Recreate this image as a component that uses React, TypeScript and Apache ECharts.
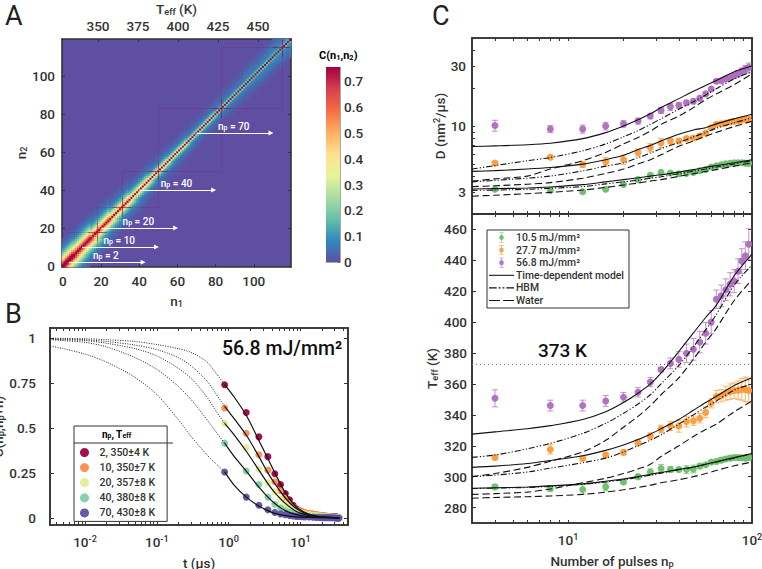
import React, { useEffect, useRef } from "react";
import * as echarts from "echarts";

const FONT = "Roboto";
const INK = "#333333";

// ---------- Panel A ----------
const nIndex = Array.from({ length: 120 }, (_, i) => String(i));
const spectral = ["#5e4fa2", "#3288bd", "#66c2a5", "#abdda4", "#e6f598", "#fee08b", "#fdae61", "#f46d43", "#d53e4f", "#9e0142"];
const diagonalValue = 0.755;
const bandStarts = [0, 6, 15, 25, 35, 45, 55, 65, 80, 95, 108];
const band0 = [0.74, 0.62, 0.5, 0.4, 0.31, 0.24, 0.185, 0.14, 0.1, 0.07, 0.05, 0.035, 0.02, 0.01];
const band6 = [0.68, 0.56, 0.45, 0.35, 0.27, 0.21, 0.16, 0.12, 0.09, 0.065, 0.045, 0.03, 0.02, 0.01];
const band15 = [0.58, 0.44, 0.33, 0.25, 0.185, 0.135, 0.1, 0.075, 0.055, 0.04, 0.03, 0.02, 0.01];
const band25 = [0.5, 0.35, 0.25, 0.18, 0.13, 0.09, 0.065, 0.05, 0.035, 0.025, 0.015, 0.01];
const band35 = [0.43, 0.28, 0.19, 0.13, 0.09, 0.06, 0.045, 0.03, 0.02, 0.01];
const band45 = [0.37, 0.22, 0.14, 0.095, 0.065, 0.045, 0.03, 0.02, 0.015, 0.01];
const band55 = [0.31, 0.17, 0.11, 0.07, 0.05, 0.035, 0.025, 0.015, 0.01];
const band65 = [0.25, 0.13, 0.08, 0.05, 0.035, 0.025, 0.015, 0.01];
const band80 = [0.2, 0.09, 0.065, 0.05, 0.04, 0.03, 0.02, 0.015, 0.01];
const band95 = [0.17, 0.09, 0.07, 0.06, 0.05, 0.04, 0.03, 0.02, 0.015, 0.01];
const band108 = [0.15, 0.1, 0.08, 0.07, 0.06, 0.05, 0.04, 0.03, 0.02];
const bandTable = [band0, band6, band15, band25, band35, band45, band55, band65, band80, band95, band108];
const crossPulses = [18, 31, 50, 83, 115];
const crossLow = [4, 18, 31, 50, 83];
const crossHigh = [32, 50, 83, 115, 119];
const arrowNp = [2, 10, 20, 40, 70];
const arrowStart = [3, 10, 20, 40, 70];
const arrowEnd = [42, 49, 59, 79, 109];
const topTeffTicks = [350, 375, 400, 425, 450];
const cbarTicks = [0, 0.1, 0.2, 0.3, 0.4, 0.5, 0.6, 0.7];
const heatTicks = [0, 20, 40, 60, 80, 100];

// ---------- Panel B ----------
const bNames = ["2, 350±4 K", "10, 350±7 K", "20, 357±8 K", "40, 380±8 K", "70, 430±8 K"];
const bColors = ["#9e0142", "#fb8d4f", "#dfee92", "#7fd0a5", "#5e4fa2"];
const bTimes = [0.88, 1.76, 2.64, 3.52, 4.4, 5.28, 6.16, 7.04, 7.92, 8.8, 9.68, 10.56, 11.44, 13.2, 14.96, 16.72, 18.48, 20.24, 22, 23.76, 25.52, 27.28, 29.04, 30.8, 32.56, 34.32];
const bNp2 = [0.74, 0.585, 0.45, 0.34, 0.245, 0.185, 0.135, 0.1, 0.07, 0.05, 0.04, 0.033, 0.028, 0.022, 0.018, 0.015, 0.013, 0.012, 0.01, 0.008, 0.007, 0.006, 0.005, 0.005, 0.004, 0.003];
const bNp10 = [0.61, 0.47, 0.35, 0.265, 0.2, 0.15, 0.11, 0.08, 0.06, 0.045, 0.04, 0.035, 0.03, 0.025, 0.022, 0.018, 0.015, 0.012, 0.01, 0.008, 0.006, 0.005, 0.004, 0.004, 0.003, 0.002];
const bNp20 = [0.525, 0.39, 0.27, 0.195, 0.145, 0.105, 0.08, 0.06, 0.045, 0.035, 0.03, 0.025, 0.022, 0.018, 0.014, 0.012, 0.01, 0.008, 0.006, 0.005, 0.004, 0.003, 0.003, 0.002, 0.002, 0.001];
const bNp40 = [0.415, 0.26, 0.185, 0.115, 0.075, 0.055, 0.04, 0.03, 0.025, 0.02, 0.016, 0.013, 0.011, 0.009, 0.007, 0.006, 0.005, 0.004, 0.004, 0.003, 0.003, 0.002, 0.002, 0.001, 0.001, 0.001];
const bNp70 = [0.255, 0.115, 0.07, 0.045, 0.03, 0.022, 0.017, 0.013, 0.01, 0.008, 0.007, 0.006, 0.005, 0.004, 0.003, 0.002, 0.002, 0.001, 0.001, 0.001, 0, 0, 0, -0.001, -0.002, -0.003];
const bPoints = [bNp2, bNp10, bNp20, bNp40, bNp70];
const dottedT = [0.0033, 0.005, 0.01, 0.02, 0.05, 0.1, 0.2, 0.31, 0.5, 0.69, 0.88];
const dotNp2 = [0.998, 0.997, 0.995, 0.99, 0.98, 0.963, 0.94, 0.917, 0.865, 0.796, 0.74];
const dotNp10 = [0.995, 0.993, 0.99, 0.98, 0.96, 0.935, 0.89, 0.84, 0.76, 0.68, 0.62];
const dotNp20 = [0.992, 0.99, 0.985, 0.97, 0.94, 0.9, 0.83, 0.77, 0.67, 0.585, 0.525];
const dotNp40 = [0.99, 0.985, 0.975, 0.95, 0.89, 0.825, 0.73, 0.65, 0.545, 0.47, 0.415];
const dotNp70 = [0.955, 0.94, 0.91, 0.865, 0.78, 0.685, 0.545, 0.445, 0.35, 0.295, 0.255];
const bDotted = [dotNp2, dotNp10, dotNp20, dotNp40, dotNp70];
const fitT = [0.88, 1.2, 1.76, 2.64, 3.52, 4.4, 6.16, 8.8, 13.2, 20, 35];
const fitNp2 = [0.74, 0.67, 0.57, 0.43, 0.33, 0.25, 0.14, 0.06, 0.02, 0.006, 0];
const fitNp10 = [0.62, 0.55, 0.46, 0.34, 0.25, 0.19, 0.11, 0.05, 0.017, 0.005, 0];
const fitNp20 = [0.525, 0.46, 0.37, 0.265, 0.19, 0.14, 0.08, 0.035, 0.012, 0.004, 0];
const fitNp40 = [0.415, 0.34, 0.26, 0.17, 0.115, 0.08, 0.04, 0.018, 0.006, 0.002, 0];
const fitNp70 = [0.255, 0.18, 0.115, 0.065, 0.04, 0.025, 0.012, 0.005, 0.002, 0.001, 0];
const bFits = [fitNp2, fitNp10, fitNp20, fitNp40, fitNp70];
const bYTicks = [0, 0.25, 0.5, 0.75, 1];
const bXMajor = [0.01, 0.1, 1, 10];
const bXTicks = [0.004, 0.005, 0.006, 0.007, 0.008, 0.009, 0.01, 0.02, 0.03, 0.04, 0.05, 0.06, 0.07, 0.08, 0.09, 0.1, 0.2, 0.3, 0.4, 0.5, 0.6, 0.7, 0.8, 0.9, 1, 2, 3, 4, 5, 6, 7, 8, 9, 10, 20, 30, 40];

// ---------- Panel C ----------
const cNames = ["10.5 mJ/mm²", "27.7 mJ/mm²", "56.8 mJ/mm²"];
const cColors = ["#6cbf6c", "#fa9b3c", "#ad6dbf"];
const pulses = [4, 8, 12, 16, 20, 24, 28, 32, 36, 40, 44, 48, 52, 56, 60, 64, 68, 72, 76, 80, 84, 88, 92, 96];
const tGreen = [293.4, 292.3, 291.7, 293.4, 296.6, 300, 303, 305.3, 304.6, 304.6, 304.6, 305, 306.8, 307.7, 309.4, 309.8, 310.7, 311.4, 312, 312.4, 312.4, 312.2, 312, 312.4];
const tGreenErr = [1.5, 2, 3, 2.5, 1.5, 1.5, 2, 2.5, 2, 1.5, 2.5, 2.5, 1.5, 1, 1, 1.5, 1.5, 1.5, 1.5, 1.5, 1.5, 1.5, 1.5, 1.5];
const tOrange = [312.4, 317.6, 311.8, 314, 315.7, 322, 326.3, 330.8, 332.8, 332.8, 335.6, 336.2, 337.8, 341.6, 347.5, 351.8, 352.4, 354, 355, 355.7, 356, 356.5, 356.5, 355.7];
const tOrangeErr = [1.5, 3, 1.5, 1.5, 1.5, 2, 2, 2.5, 3, 4, 3.5, 3, 3, 3.5, 3, 4, 4, 4.5, 5, 5, 6, 7, 8, 8];
const tPurple = [350.7, 346, 346, 349, 351.4, 354.6, 361.2, 369.4, 373.3, 375.9, 379.8, 382.4, 387.1, 392.8, 400, 414.8, 417, 421, 424.5, 426.6, 433, 439.5, 443, 450.4];
const tPurpleErr = [5.5, 3.5, 3.5, 3.5, 3, 3, 3, 1.5, 3.5, 5, 6, 7, 7, 7, 7.5, 6, 7, 7, 7.5, 7.5, 8, 8, 9, 10];
const dGreen = [3.14, 3.07, 3.0, 3.14, 3.44, 3.75, 4.06, 4.28, 4.23, 4.18, 4.2, 4.28, 4.41, 4.52, 4.72, 4.83, 4.92, 5.0, 5.05, 5.1, 5.1, 5.1, 5.07, 5.05];
const dGreenErr = [0.08, 0.1, 0.1, 0.1, 0.08, 0.1, 0.1, 0.1, 0.08, 0.06, 0.06, 0.06, 0.05, 0.05, 0.05, 0.05, 0.05, 0.05, 0.05, 0.05, 0.05, 0.05, 0.05, 0.05];
const dOrange = [5.07, 5.65, 4.95, 5.2, 5.42, 6.16, 6.75, 7.34, 7.6, 7.6, 7.94, 8.04, 8.34, 8.8, 9.7, 10.3, 10.4, 10.55, 10.75, 10.9, 11.0, 11.2, 11.3, 11.3];
const dOrangeErr = [0.15, 0.2, 0.25, 0.4, 0.45, 0.4, 0.5, 0.6, 0.4, 0.3, 0.3, 0.3, 0.3, 0.3, 0.3, 0.3, 0.3, 0.35, 0.4, 0.4, 0.45, 0.5, 0.5, 0.6];
const dPurple = [10.1, 9.47, 9.47, 10, 10.4, 10.95, 12, 13.3, 14.2, 14.6, 15.3, 15.7, 16.6, 18, 19.7, 22.7, 22.9, 23.6, 24.5, 25.1, 26, 27.2, 28.3, 29.2];
const dPurpleErr = [1.0, 0.6, 0.7, 0.7, 0.6, 0.6, 0.6, 0.7, 0.9, 0.8, 0.7, 0.7, 0.7, 0.6, 0.6, 0.7, 0.9, 1, 1.2, 1.3, 1.5, 1.7, 2, 2.4];
const tPoints = [tGreen, tOrange, tPurple];
const tErrors = [tGreenErr, tOrangeErr, tPurpleErr];
const dPoints = [dGreen, dOrange, dPurple];
const dErrors = [dGreenErr, dOrangeErr, dPurpleErr];

const modelX = [3, 4, 6, 8, 12, 16, 20, 24, 28, 32, 40, 48, 56, 64, 80, 100];
const tSolidG = [292.5, 292.8, 293.3, 294, 295.3, 297, 298.5, 300, 301.5, 302.7, 304.7, 306.2, 308, 309.7, 312.3, 315];
const tHbmG = [292.3, 292.6, 293, 293.7, 295, 296.5, 298, 299.5, 301, 302.3, 304.5, 306, 308, 309.5, 312, 315];
const tWaterG = [286, 286.5, 287, 287.5, 288.5, 290, 291.5, 293, 294.5, 296, 298, 300, 302, 304, 307, 309.5];
const tSolidO = [306, 306.8, 308.5, 310.5, 313.5, 317, 320.5, 324, 327.5, 331, 337, 343, 348, 352, 359, 364];
const tHbmO = [300, 301, 303, 305.5, 309, 312, 316, 320, 323.5, 327, 334, 340, 345, 349, 356, 360];
const tWaterO = [288.5, 289, 290, 292, 296, 299, 302, 305, 308, 313, 320, 326, 330.5, 334, 342, 349];
const tSolidP = [327.5, 329, 331, 333, 337, 342, 348, 354, 360, 367, 381, 393, 403, 411, 430, 444];
const tHbmP = [312.5, 314, 318, 321.5, 328, 334.5, 341, 347, 353, 360, 372, 384, 395, 405, 424, 437];
const tWaterP = [300, 302, 306, 310, 316, 323.5, 332, 339, 346, 353, 364, 376, 387, 396, 414, 427.5];
const dSolidG = [3.16, 3.18, 3.22, 3.28, 3.42, 3.6, 3.75, 3.88, 4.0, 4.1, 4.3, 4.5, 4.7, 4.85, 5.1, 5.4];
const dHbmG = [3.08, 3.1, 3.14, 3.2, 3.3, 3.47, 3.6, 3.72, 3.85, 3.95, 4.18, 4.38, 4.55, 4.72, 5, 5.3];
const dWaterG = [2.77, 2.82, 2.9, 2.97, 3.1, 3.25, 3.4, 3.52, 3.65, 3.75, 3.98, 4.18, 4.35, 4.5, 4.8, 5.1];
const dSolidO = [4.36, 4.42, 4.55, 4.68, 4.98, 5.4, 5.85, 6.5, 7, 7.6, 8.6, 9.3, 9.7, 10.4, 11.4, 12.4];
const dHbmO = [3.6, 3.7, 3.85, 4, 4.4, 4.8, 5.1, 5.6, 6.1, 6.6, 7.4, 8.2, 8.9, 9.6, 10.6, 11.6];
const dWaterO = [3.3, 3.35, 3.45, 3.55, 3.85, 4.2, 4.55, 5, 5.4, 5.9, 6.9, 7.6, 8.3, 8.9, 9.9, 10.9];
const dSolidP = [6.87, 6.95, 7.1, 7.3, 7.94, 8.86, 10, 11.2, 12.5, 14, 16.5, 18.9, 21, 23, 27, 30];
const dHbmP = [4.55, 4.85, 5.3, 5.62, 6.35, 7.2, 8.2, 9.2, 10.3, 11.4, 13.6, 15.6, 17.6, 19.8, 23.7, 27];
const dWaterP = [3.65, 3.8, 4.0, 4.55, 5.3, 6.16, 7.2, 8.1, 9.1, 10.3, 12, 14, 16.2, 18, 21.3, 26];
const modelNames = ["Time-dependent model", "HBM", "Water"];
const tModels = [[tSolidG, tSolidO, tSolidP], [tHbmG, tHbmO, tHbmP], [tWaterG, tWaterO, tWaterP]];
const dModels = [[dSolidG, dSolidO, dSolidP], [dHbmG, dHbmO, dHbmP], [dWaterG, dWaterO, dWaterP]];
const modelDash: any[] = ["solid", [6, 2, 1.2, 2, 1.2, 2], [7, 3.5]];
const waterLevel = 373;
const cXMajor = [10, 100];
const cXTicks = [4, 5, 6, 7, 8, 9, 10, 20, 30, 40, 50, 60, 70, 80, 90, 100];
const dYLabels = [3, 10, 30];
const dYTicks = [3, 4, 5, 6, 7, 8, 9, 10, 20, 30, 40];
const tYTicks = [280, 300, 320, 340, 360, 380, 400, 420, 440, 460];

// ---------- helpers ----------
const rich = (size: number, weight: any = 500) => ({
  a: { fontFamily: FONT, fontSize: size, fontWeight: weight, color: INK },
  s: { fontFamily: FONT, fontSize: size * 0.68, fontWeight: weight, color: INK, verticalAlign: "bottom", padding: [size * 0.35, 0, 0, 0] },
  u: { fontFamily: FONT, fontSize: size * 0.68, fontWeight: weight, color: INK, verticalAlign: "top", padding: [0, 0, size * 0.45, 0] },
});
const axisLineOf = () => ({ show: true, onZero: false, lineStyle: { color: INK, width: 1.6 } });
const tick = (len: number, extra: any = {}) => ({ show: true, inside: true, length: len, lineStyle: { color: INK, width: 1 }, ...extra });
const noLabel = { show: false };
const labelStyle = { fontFamily: FONT, fontWeight: 500, fontSize: 13.5, color: INK };
const powerLabel = (v: number) => `{a|10}{u|${Math.round(Math.log10(v))}}`;
const pairs = (xs: number[], ys: number[]) => xs.map((x, i) => [x, ys[i]]);
const fixedGrid = { outerBoundsMode: "none", containLabel: false };
const framedGrid = { ...fixedGrid, show: true, borderColor: INK, borderWidth: 1.6, backgroundColor: "transparent" };

function heatCells() {
  const cells: number[][] = [];
  for (let i = 0; i < 120; i++) {
    for (let j = 0; j < 120; j++) {
      const lag = Math.abs(i - j);
      const low = Math.min(i, j);
      let b = 0;
      bandStarts.forEach((s, k) => { if (low >= s) b = k; });
      const v = lag === 0 ? diagonalValue : bandTable[b][lag - 1];
      if (v) cells.push([i, j, v]);
    }
  }
  return cells;
}

function errorSeries(name: string, color: string, xAxisIndex: number, yAxisIndex: number, ys: number[], errs: number[]) {
  return {
    type: "custom",
    name,
    xAxisIndex,
    yAxisIndex,
    clip: false,
    silent: true,
    encode: { x: 0, y: [1, 2] },
    data: pulses.map((x, i) => [x, ys[i] - errs[i], ys[i] + errs[i]]),
    renderItem: (_: any, api: any) => {
      const x = api.value(0);
      const lo = api.coord([x, api.value(1)]);
      const hi = api.coord([x, api.value(2)]);
      const st = { stroke: color, lineWidth: 1, opacity: 0.75 };
      const mk = (x1: number, y1: number, x2: number, y2: number) => ({ type: "line", shape: { x1, y1, x2, y2 }, style: st });
      return {
        type: "group",
        children: [mk(lo[0], lo[1], hi[0], hi[1]), mk(lo[0] - 3, lo[1], lo[0] + 3, lo[1]), mk(hi[0] - 3, hi[1], hi[0] + 3, hi[1])],
      };
    },
  };
}

const WHISKER = "path://M8 0H16V1H12.5V4.2A5 5 0 0 1 12.5 13.8V17H16V18H8V17H11.5V13.8A5 5 0 0 1 11.5 4.2V1H8Z";
const ICON_SOLID = "path://M0 0H26V1.1H0Z";
const ICON_HBM = "path://M0 0H8V1.1H0ZM10 0H12V1.1H10ZM14 0H16V1.1H14ZM18 0H26V1.1H18Z";
const ICON_WATER = "path://M0 0H10V1.1H0ZM13 0H23V1.1H13Z";

const logAxis = (grid: number, position: string, min: number, max: number, ticks: number[], majors: number[] | null, extra: any = {}) => ({
  type: "log",
  gridIndex: grid,
  position,
  min,
  max,
  axisLine: axisLineOf(),
  splitLine: { show: false },
  axisTick: tick(3, { customValues: ticks }),
  minorTick: { show: false },
  axisLabel: majors
    ? { show: true, customValues: majors, formatter: powerLabel, rich: rich(13.5), margin: 9, hideOverlap: false }
    : noLabel,
  ...extra,
});

function optionA() {
  const marks: any[] = [];
  crossPulses.forEach((n, i) => {
    const faint = { color: "rgba(158,1,66,0.16)", width: 1, type: "solid" };
    const strong = { color: "rgba(158,1,66,0.55)", width: 1.1, type: "solid" };
    const seg = (a: number[], b: number[], ls: any) => [
      { coord: a, symbol: "none", lineStyle: ls, label: { show: false } },
      { coord: b, symbol: "none" },
    ];
    marks.push(seg([crossLow[i], n], [crossHigh[i], n], faint));
    marks.push(seg([n, crossLow[i]], [n, crossHigh[i]], faint));
    marks.push(seg([Math.max(n - 5, 0), n], [Math.min(n + 5, 119), n], strong));
    marks.push(seg([n, Math.max(n - 5, 0)], [n, Math.min(n + 5, 119)], strong));
  });
  arrowNp.forEach((np, i) => {
    marks.push([
      {
        name: String(np),
        coord: [arrowStart[i], np],
        symbol: "none",
        lineStyle: { color: "#ffffff", width: 1, type: "solid" },
        label: {
          show: true,
          position: "middle",
          distance: 2,
          formatter: `{a|n}{s|p}{a| = ${np}}`,
          rich: {
            a: { fontFamily: FONT, fontWeight: 500, fontSize: 10, color: "#fff" },
            s: { fontFamily: FONT, fontWeight: 500, fontSize: 7, color: "#fff", verticalAlign: "bottom", padding: [3, 0, 0, 0] },
          },
        },
      },
      { coord: [arrowEnd[i], np], symbol: "triangle", symbolSize: 5 },
    ]);
  });
  const catAxis = (extra: any) => ({ type: "category", data: nIndex, boundaryGap: true, gridIndex: 0, axisLine: axisLineOf(), splitLine: { show: false }, ...extra });
  const showHeatTick = (_: number, v: string) => heatTicks.includes(Number(v));
  return {
    animation: false,
    textStyle: { fontFamily: FONT },
    grid: [
      { ...fixedGrid, left: 62, top: 39, width: 229, height: 228, show: true, backgroundColor: spectral[0], borderWidth: 0 },
      { ...fixedGrid, left: 326, top: 67, width: 14, height: 195 },
    ],
    visualMap: { show: false, seriesIndex: 0, min: 0, max: diagonalValue, dimension: 2, inRange: { color: spectral } },
    xAxis: [
      catAxis({
        position: "bottom",
        name: "{a|n}{s|1}",
        nameLocation: "middle",
        nameGap: 27,
        nameTextStyle: { rich: rich(13.5) },
        axisTick: tick(3, { alignWithLabel: true, interval: showHeatTick }),
        axisLabel: { ...labelStyle, interval: showHeatTick, margin: 7 },
      }),
      {
        type: "value",
        gridIndex: 0,
        position: "top",
        min: 327.5,
        max: 470.6,
        axisLine: axisLineOf(),
        splitLine: { show: false },
        axisTick: tick(3, { customValues: topTeffTicks }),
        axisLabel: { ...labelStyle, customValues: topTeffTicks, margin: 6 },
        name: "{a|T}{s|eff}{a| (K)}",
        nameLocation: "middle",
        nameGap: 23,
        nameTextStyle: { rich: rich(13.5) },
      },
      { type: "category", gridIndex: 1, data: ["C"], axisLine: { show: true, onZero: false, lineStyle: { color: "#aaa", width: 1 } }, axisTick: { show: false }, axisLabel: noLabel },
    ],
    yAxis: [
      catAxis({
        position: "left",
        name: "{a|n}{s|2}",
        nameLocation: "middle",
        nameGap: 29,
        nameTextStyle: { rich: rich(13.5) },
        axisTick: tick(3, { alignWithLabel: true, interval: showHeatTick }),
        axisLabel: { ...labelStyle, interval: showHeatTick, margin: 7 },
      }),
      catAxis({ position: "right", axisTick: tick(3, { alignWithLabel: true, interval: showHeatTick }), axisLabel: noLabel }),
      {
        type: "value",
        gridIndex: 1,
        position: "right",
        min: 0,
        max: diagonalValue,
        axisLine: { show: true, onZero: false, lineStyle: { color: "#aaa", width: 1 } },
        splitLine: { show: false },
        axisTick: tick(2, { customValues: cbarTicks, lineStyle: { color: "#666", width: 1 } }),
        axisLabel: { ...labelStyle, customValues: cbarTicks, margin: 4, formatter: (v: number) => String(v) },
      },
    ],
    graphic: [
      { type: "text", x: 5, y: 2, z: 10, style: { text: "A", font: `400 27px ${FONT}`, fill: "#222" } },
      { type: "text", x: 319, y: 50, z: 10, style: { text: "{a|C(n}{s|1}{a|,n}{s|2}{a|)}", rich: rich(11, 700) } },
    ],
    series: [
      {
        type: "heatmap",
        name: "C(n1,n2)",
        xAxisIndex: 0,
        yAxisIndex: 0,
        data: heatCells(),
        progressive: 0,
        silent: true,
        itemStyle: { borderWidth: 0 },
        markLine: { silent: true, animation: false, symbol: "none", data: marks },
      },
      {
        type: "bar",
        name: "colorbar",
        xAxisIndex: 2,
        yAxisIndex: 2,
        barWidth: "100%",
        silent: true,
        data: [diagonalValue],
        itemStyle: {
          color: new echarts.graphic.LinearGradient(0, 1, 0, 0, spectral.map((c, i) => ({ offset: i / (spectral.length - 1), color: c }))),
        },
      },
    ],
  };
}

function optionB() {
  const series: any[] = [];
  bPoints.forEach((ys, i) => {
    series.push({ type: "scatter", clip: false, name: bNames[i], symbolSize: 7, itemStyle: { color: bColors[i], opacity: 0.95 }, data: pairs(bTimes, ys) });
  });
  bFits.forEach((ys, i) => {
    series.push({ type: "line", clip: false, name: "fit " + i, symbol: "none", smooth: 0.3, lineStyle: { color: "#111", width: 1.2 }, data: pairs(fitT, ys) });
  });
  bDotted.forEach((ys, i) => {
    series.push({ type: "line", clip: false, name: "extrapolation " + i, symbol: "none", smooth: 0.3, lineStyle: { color: "#222", width: 1, type: [1, 1.4] }, data: pairs(dottedT, ys) });
  });
  return {
    animation: false,
    textStyle: { fontFamily: FONT },
    grid: { ...framedGrid, left: 50, top: 328, width: 298, height: 197 },
    xAxis: [
      logAxis(0, "bottom", 0.00325, 46, bXTicks, bXMajor, {
        name: "{a|t (µs)}",
        nameLocation: "middle",
        nameGap: 31,
        nameTextStyle: { rich: rich(13.5) },
      }),
      logAxis(0, "top", 0.00325, 46, bXTicks, null),
    ],
    yAxis: [
      {
        type: "value",
        gridIndex: 0,
        position: "left",
        min: -0.04,
        max: 1.055,
        axisLine: axisLineOf(),
        splitLine: { show: false },
        axisTick: tick(4, { customValues: bYTicks }),
        axisLabel: { ...labelStyle, customValues: bYTicks, margin: 14, formatter: (v: number) => String(v) },
        name: "{a|C(n}{s|p}{a|,n}{s|p}{a|+n)}",
        nameLocation: "middle",
        nameGap: 28,
        nameTextStyle: { rich: rich(13.5) },
      },
      { type: "value", gridIndex: 0, position: "right", min: -0.04, max: 1.055, axisLine: axisLineOf(), splitLine: { show: false }, axisTick: tick(4, { customValues: bYTicks }), axisLabel: noLabel },
    ],
    legend: {
      left: 74,
      top: 426,
      orient: "vertical",
      align: "left",
      data: bNames,
      icon: "circle",
      itemWidth: 20,
      itemHeight: 9,
      itemGap: 4.1,
      padding: [21, 12, 3, 6],
      backgroundColor: "#fff",
      borderColor: INK,
      borderWidth: 1,
      selectedMode: false,
      textStyle: { fontFamily: FONT, fontWeight: 500, fontSize: 10.5, color: INK },
    },
    graphic: [
      { type: "text", x: 5, y: 300, z: 10, style: { text: "B", font: `400 27px ${FONT}`, fill: "#222" } },
      { type: "text", x: 222, y: 338, z: 10, style: { text: "56.8 mJ/mm²", font: `500 19.5px ${FONT}`, fill: "#111" } },
      { type: "text", x: 102, y: 429, z: 10, style: { text: "{a|n}{s|p}{a|, T}{s|eff}", rich: rich(10, 700) } },
      { type: "line", z: 10, shape: { x1: 74, y1: 443, x2: 173, y2: 443 }, style: { stroke: INK, lineWidth: 1 } },
    ],
    series,
  };
}

function optionC() {
  const X_CT = 0, X_CB = 2, Y_CT = 0, Y_CB = 2;
  const series: any[] = [];
  [0, 1, 2].forEach((i) => {
    series.push(errorSeries("err D " + i, cColors[i], X_CT, Y_CT, dPoints[i], dErrors[i]));
    series.push(errorSeries("err T " + i, cColors[i], X_CB, Y_CB, tPoints[i], tErrors[i]));
    series.push({ type: "scatter", clip: false, name: cNames[i] + " D", xAxisIndex: X_CT, yAxisIndex: Y_CT, symbolSize: 7, itemStyle: { color: cColors[i], opacity: 0.95 }, data: pairs(pulses, dPoints[i]) });
    series.push({ type: "scatter", clip: false, name: cNames[i], xAxisIndex: X_CB, yAxisIndex: Y_CB, symbolSize: 7, itemStyle: { color: cColors[i], opacity: 0.95 }, data: pairs(pulses, tPoints[i]) });
  });
  modelNames.forEach((name, m) => {
    [0, 1, 2].forEach((i) => {
      const ls = { color: "#111", width: 1.1, type: modelDash[m] };
      series.push({ type: "line", clip: false, name, xAxisIndex: X_CB, yAxisIndex: Y_CB, symbol: "none", smooth: 0.3, lineStyle: ls, itemStyle: { color: "#111" }, data: pairs(modelX, tModels[m][i]) });
      series.push({ type: "line", clip: false, name: name + " D", xAxisIndex: X_CT, yAxisIndex: Y_CT, symbol: "none", smooth: 0.3, lineStyle: ls, itemStyle: { color: "#111" }, data: pairs(modelX, dModels[m][i]) });
    });
  });
  series.push({
    type: "line",
    clip: false,
    name: "373 K",
    xAxisIndex: X_CB,
    yAxisIndex: Y_CB,
    symbol: "none",
    lineStyle: { opacity: 0 },
    data: [[3, waterLevel], [100, waterLevel]],
    markLine: { silent: true, symbol: "none", label: { show: false }, lineStyle: { color: "#777", width: 1, type: [1, 3] }, data: [{ yAxis: waterLevel }] },
  });
  return {
    animation: false,
    textStyle: { fontFamily: FONT },
    grid: [
      { ...framedGrid, left: 472, top: 38, width: 280, height: 176 },
      { ...framedGrid, left: 472, top: 214, width: 280, height: 309 },
    ],
    xAxis: [
      logAxis(0, "bottom", 3, 100, cXTicks, null),
      logAxis(0, "top", 3, 100, cXTicks, null),
      logAxis(1, "bottom", 3, 100, cXTicks, cXMajor, {
        name: "{a|Number of pulses n}{s|p}",
        nameLocation: "middle",
        nameGap: 31,
        nameTextStyle: { rich: rich(13.5) },
      }),
      logAxis(1, "top", 3, 100, cXTicks, null),
    ],
    yAxis: [
      {
        type: "log",
        gridIndex: 0,
        position: "left",
        min: 2,
        max: 50,
        axisLine: axisLineOf(),
        splitLine: { show: false },
        axisTick: tick(3, { customValues: dYTicks }),
        axisLabel: { ...labelStyle, customValues: dYLabels, margin: 6, formatter: (v: number) => String(v) },
        name: "{a|D (nm}{u|2}{a|/µs)}",
        nameLocation: "middle",
        nameGap: 22,
        nameTextStyle: { rich: rich(13.5) },
      },
      { type: "log", gridIndex: 0, position: "right", min: 2, max: 50, axisLine: axisLineOf(), splitLine: { show: false }, axisTick: tick(3, { customValues: dYTicks }), axisLabel: noLabel },
      {
        type: "value",
        gridIndex: 1,
        position: "left",
        min: 270,
        max: 470,
        axisLine: axisLineOf(),
        splitLine: { show: false },
        axisTick: tick(4, { customValues: tYTicks }),
        axisLabel: { ...labelStyle, customValues: tYTicks, margin: 5 },
        name: "{a|T}{s|eff}{a| (K)}",
        nameLocation: "middle",
        nameGap: 33,
        nameTextStyle: { rich: rich(13.5) },
      },
      { type: "value", gridIndex: 1, position: "right", min: 270, max: 470, axisLine: axisLineOf(), splitLine: { show: false }, axisTick: tick(4, { customValues: tYTicks }), axisLabel: noLabel },
    ],
    legend: {
      left: 487,
      top: 230,
      orient: "vertical",
      align: "left",
      data: [
        { name: cNames[0], icon: WHISKER },
        { name: cNames[1], icon: WHISKER },
        { name: cNames[2], icon: WHISKER },
        { name: modelNames[0], icon: ICON_SOLID, itemStyle: { color: "#111" } },
        { name: modelNames[1], icon: ICON_HBM, itemStyle: { color: "#111" } },
        { name: modelNames[2], icon: ICON_WATER, itemStyle: { color: "#111" } },
      ],
      itemWidth: 25,
      itemHeight: 10,
      itemGap: 1.6,
      padding: [2, 5, 2, 2],
      backgroundColor: "#fff",
      borderColor: INK,
      borderWidth: 1,
      selectedMode: false,
      textStyle: { fontFamily: FONT, fontWeight: 500, fontSize: 10.4, lineHeight: 11, height: 11, color: INK, padding: [0, 0, 0, -3] },
    },
    graphic: [
      { type: "text", x: 432, y: 2, z: 10, style: { text: "C", font: `400 27px ${FONT}`, fill: "#222" } },
      { type: "text", x: 538, y: 341, z: 10, style: { text: "373 K", font: `500 19px ${FONT}`, fill: "#111" } },
    ],
    series,
  };
}

function Panel({ build }: { build: () => any }) {
  const ref = useRef<HTMLDivElement>(null);
  useEffect(() => {
    const chart = echarts.init(ref.current!, undefined, { renderer: "svg" });
    chart.setOption(build());
    return () => chart.dispose();
  }, []);
  return <div ref={ref} style={{ position: "absolute", left: 0, top: 0, width: 762, height: 569 }} />;
}

export default function App() {
  return (
    <div style={{ position: "absolute", left: 0, top: 0, width: 762, height: 569, background: "#fff" }}>
      <Panel build={optionA} />
      <Panel build={optionB} />
      <Panel build={optionC} />
    </div>
  );
}
